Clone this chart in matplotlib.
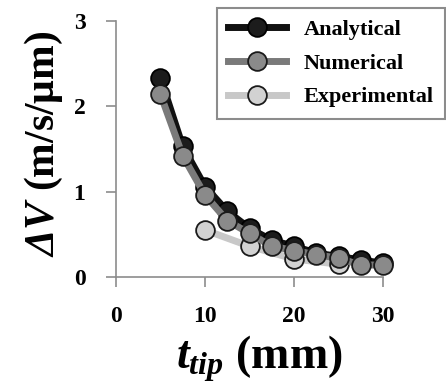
import matplotlib
matplotlib.use("Agg")
import matplotlib.pyplot as plt

plt.rcParams['font.family'] = 'Liberation Serif'
plt.rcParams['font.weight'] = 'bold'
plt.rcParams['mathtext.fontset'] = 'custom'
plt.rcParams['mathtext.rm'] = 'Liberation Serif:bold'
plt.rcParams['mathtext.it'] = 'Liberation Serif:italic:bold'
plt.rcParams['mathtext.bf'] = 'Liberation Serif:bold'
plt.rcParams['mathtext.sf'] = 'Liberation Serif:italic:bold'

t_tip = [5, 7.5, 10, 12.5, 15, 17.5, 20, 22.5, 25, 27.5, 30]
analytical = [2.33, 1.53, 1.06, 0.77, 0.57, 0.43, 0.36, 0.28, 0.24, 0.20, 0.16]
numerical = [2.14, 1.42, 0.96, 0.66, 0.51, 0.36, 0.31, 0.26, 0.22, 0.14, 0.14]
t_exp = [10, 15, 20, 25]
experimental = [0.55, 0.36, 0.21, 0.15]

fig = plt.figure(figsize=(4.46, 3.89), dpi=100)
ax = fig.add_axes([0.260, 0.288, 0.599, 0.658])

ax.plot(t_exp, experimental, color='#c8c8c8', lw=5, marker='o', ms=13.5,
        mfc='#d2d2d2', mec='#1a1a1a', mew=1.3, label='Experimental', clip_on=False, zorder=2)
ax.plot(t_tip, analytical, color='#111111', lw=5, marker='o', ms=13.5,
        mfc='#1c1c1c', mec='#000000', mew=1.3, label='Analytical', clip_on=False, zorder=3)
ax.plot(t_tip, numerical, color='#7a7a7a', lw=5, marker='o', ms=13.5,
        mfc='#8a8a8a', mec='#1a1a1a', mew=1.3, label='Numerical', clip_on=False, zorder=4)

ax.set_xlim(0, 30)
ax.set_ylim(0, 3)
ax.set_xticks([0, 10, 20, 30])
ax.set_yticks([0, 1, 2, 3])
for s in ['top', 'right']:
    ax.spines[s].set_visible(False)
for s in ['left', 'bottom']:
    ax.spines[s].set_color('#8c8c8c')
    ax.spines[s].set_linewidth(1.2)
ax.tick_params(direction='out', length=7, width=1.2, color='#8c8c8c',
               labelsize=17, pad=14)
ax.tick_params(axis='y', pad=15)

ax.set_xlabel(r'$t_{tip}\ \mathrm{(mm)}$', fontsize=33, labelpad=5)
ax.xaxis.label.set_x(0.535)
ax.set_ylabel(r'$\mathsf{\Delta}V\ \mathrm{(m/s/μm)}$', fontsize=30, labelpad=6)
ax.yaxis.label.set_y(0.52)

h, l = ax.get_legend_handles_labels()
order = [1, 2, 0]
leg = ax.legend([h[i] for i in order], [l[i] for i in order],
                loc='upper right', bbox_to_anchor=(445 / 446, 1 - 8 / 389),
                bbox_transform=fig.transFigure, borderaxespad=0, fontsize=16,
                handlelength=2.6, labelspacing=0.6, fancybox=False,
                framealpha=1, edgecolor='#8c8c8c', borderpad=0.5)
leg.get_frame().set_linewidth(1.5)

fig.savefig('out.png', dpi=100)
